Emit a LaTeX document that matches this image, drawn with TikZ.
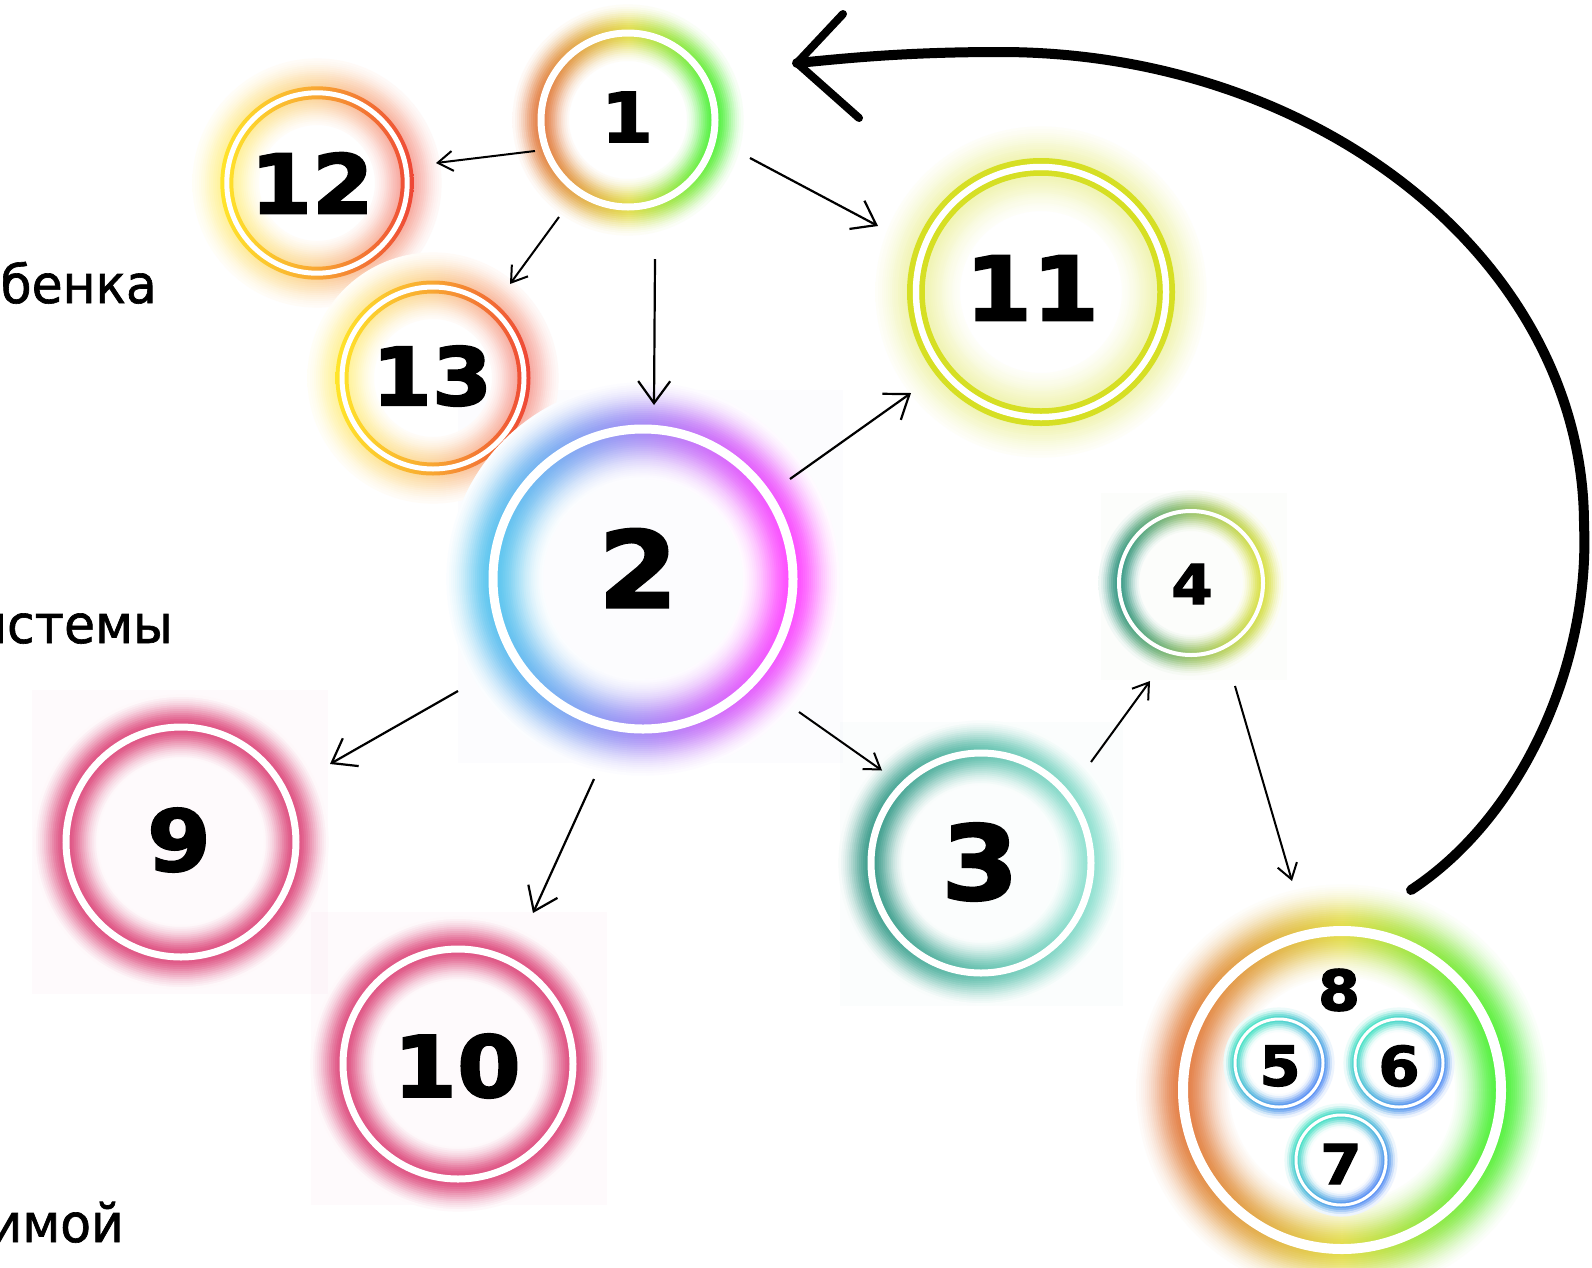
\documentclass[tikz,border=0pt]{standalone}
\usepackage{fontspec}
\usetikzlibrary{arrows.meta}
\newfontfamily\numfont[FakeStretch=1.08,FakeBold=2.2]{DejaVu Sans Bold}
\newfontfamily\cyrfont[FakeStretch=0.95,FakeBold=1.2]{DejaVu Sans}

\definecolor{oA}{HTML}{E37D45}
\definecolor{yA}{HTML}{E2DC48}
\definecolor{gA}{HTML}{4EF23E}
\definecolor{cyB}{HTML}{5CC6EF}
\definecolor{puB}{HTML}{A78BF5}
\definecolor{maB}{HTML}{FF4CFF}
\definecolor{yg}{HTML}{D6DF24}
\definecolor{y12}{HTML}{FFE52A}
\definecolor{o12}{HTML}{F8A632}
\definecolor{r12}{HTML}{EE4636}
\definecolor{pk}{HTML}{DE4F80}
\definecolor{tlA}{HTML}{3C9C8B}
\definecolor{tlB}{HTML}{66C2B0}
\definecolor{tlC}{HTML}{92E2D2}
\definecolor{tfA}{HTML}{3A9A88}
\definecolor{tfB}{HTML}{9CC46C}
\definecolor{tfC}{HTML}{DCE24A}
\definecolor{cyF}{HTML}{3CE0C0}
\definecolor{blF}{HTML}{4C84F4}

% glow: concentric shaded annuli around ring radius #2, inner reach #3, outer reach #4,
% peak strength #5 (percent), shading style #6
\newcommand\glowring[6]{%
  \pgfmathtruncatemacro\gN{(#3+#4)/2}%
  \foreach \i in {0,...,\gN}{%
    \pgfmathsetmacro\gra{#2-#3+2*\i}%
    \pgfmathsetmacro\grb{\gra+2.6}%
    \pgfmathsetmacro\glt{(\gra+1<#2) ? (#2-\gra-1)/#3 : (\gra+1-#2)/#4}%
    \pgfmathtruncatemacro\gp{#5*max(0,(exp(-2.4*\glt*\glt)-0.0907)/0.9093)}%
    \ifnum\gp>2
    \path[#6, even odd rule] (#1.center) circle (\grb) (#1.center) circle (\gra);
    \fi
  }}

\tikzset{
  hshade/.style n args={3}{left color=#1!\gp!white, right color=#3!\gp!white, middle color=#2!\gp!white},
  dshade/.style n args={2}{top color=#1!\gp!white, bottom color=#2!\gp!white, shading angle=45},
  ringnode/.style={circle, inner sep=0, outer sep=0, draw=none},
  num/.style={inner sep=0, text=black},
  cyr/.style={inner sep=0, anchor=base east, text=black, font=\cyrfont\fontsize{53}{53}\selectfont},
  sarrow/.style={line width=2, -{Straight Barb[length=15pt, width=20pt]}},
  barrow/.style={line width=2.2, -{Straight Barb[length=22pt, width=32pt]}},
  bigline/.style={line width=10, line cap=round, line join=round},
}

\begin{document}
\begin{tikzpicture}[x=1pt,y=1pt]
\useasboundingbox (0,0) rectangle (1592,-1267);
\fill[white] (0,0) rectangle (1592,-1267);

% faint glow boxes
\fill[pk, opacity=0.025] (32,-690) rectangle (328,-994);
\fill[pk, opacity=0.025] (311,-912) rectangle (607,-1205);
\fill[puB, opacity=0.025] (458,-390) rectangle (843,-763);
\fill[tlB, opacity=0.025] (840,-722) rectangle (1123,-1006);
\fill[tfB, opacity=0.025] (1101,-493) rectangle (1287,-680);

% node anchors
\node[ringnode, minimum size=174] (n1) at (628,-120) {};
\node[ringnode, minimum size=300] (n2) at (643,-579) {};
\node[ringnode, minimum size=220] (n3) at (981,-863) {};
\node[ringnode, minimum size=144] (n4) at (1191,-583) {};
\node[ringnode, minimum size=88] (n5) at (1279,-1063) {};
\node[ringnode, minimum size=88] (n6) at (1399,-1063) {};
\node[ringnode, minimum size=90] (n7) at (1341,-1160) {};
\node[ringnode, minimum size=318] (n8) at (1342,-1090) {};
\node[ringnode, minimum size=230] (n9) at (181,-842) {};
\node[ringnode, minimum size=230] (n10) at (458,-1064) {};
\node[ringnode, minimum size=262] (n11) at (1041,-292) {};
\node[ringnode, minimum size=190] (n12) at (317,-183) {};
\node[ringnode, minimum size=192] (n13) at (433,-378) {};

% node 12
\glowring{n12}{90}{36}{38}{50}{hshade={y12}{o12}{r12}}
\path[left color=y12, right color=r12, middle color=o12, even odd rule] (n12.center) circle (96.7) (n12.center) circle (83.7);
\draw[white, line width=5] (n12.center) circle (90.2);
% node 13
\glowring{n13}{91}{36}{38}{50}{hshade={y12}{o12}{r12}}
\path[left color=y12, right color=r12, middle color=o12, even odd rule] (n13.center) circle (97.5) (n13.center) circle (84.5);
\draw[white, line width=5] (n13.center) circle (91);
% node 2
\glowring{n2}{150}{52}{48}{100}{hshade={cyB}{puB}{maB}}
\draw[white, line width=9] (n2.center) circle (150);
% node 1
\glowring{n1}{87}{30}{30}{100}{hshade={oA}{yA}{gA}}
\draw[white, line width=7] (n1.center) circle (87);
% node 11
\glowring{n11}{125}{50}{46}{38}{hshade={yg}{yg}{yg}}
\draw[yg, line width=6] (n11.center) circle (131);
\draw[white, line width=6.5] (n11.center) circle (125);
\draw[yg, line width=5.5] (n11.center) circle (119);
% nodes 9, 10
\glowring{n9}{115}{34}{34}{100}{hshade={pk}{pk}{pk}}
\draw[white, line width=7] (n9.center) circle (115);
\glowring{n10}{115}{34}{34}{100}{hshade={pk}{pk}{pk}}
\draw[white, line width=7] (n10.center) circle (115);
% node 3
\glowring{n3}{110}{34}{34}{100}{hshade={tlA}{tlB}{tlC}}
\draw[white, line width=7] (n3.center) circle (110);
% node 4
\glowring{n4}{72}{22}{22}{100}{hshade={tfA}{tfB}{tfC}}
\draw[white, line width=4] (n4.center) circle (72);
% node 8
\glowring{n8}{159}{48}{48}{100}{hshade={oA}{yA}{gA}}
\draw[white, line width=10] (n8.center) circle (159);
% nodes 5, 6, 7
\glowring{n5}{44}{13}{12}{95}{dshade={cyF}{blF}}
\draw[white, line width=3] (n5.center) circle (44);
\glowring{n6}{44}{13}{12}{95}{dshade={cyF}{blF}}
\draw[white, line width=3] (n6.center) circle (44);
\glowring{n7}{45}{13}{12}{95}{dshade={cyF}{blF}}
\draw[white, line width=3] (n7.center) circle (45);

% numbers
\node[num, font=\numfont\fontsize{69}{69}\selectfont] (t1) at (627,-117) {1};
\node[num, font=\numfont\fontsize{106}{106}\selectfont] (t2) at (638,-568) {2};
\node[num, font=\numfont\fontsize{103}{103}\selectfont] (t3) at (980,-862) {3};
\node[num, font=\numfont\fontsize{55}{55}\selectfont] (t4) at (1192,-584) {4};
\node[num, font=\numfont\fontsize{55}{55}\selectfont] (t5) at (1280,-1066) {5};
\node[num, font=\numfont\fontsize{55}{55}\selectfont] (t6) at (1399,-1066) {6};
\node[num, font=\numfont\fontsize{55}{55}\selectfont] (t7) at (1341,-1164) {7};
\node[num, font=\numfont\fontsize{56}{56}\selectfont] (t8) at (1339,-990) {8};
\node[num, font=\numfont\fontsize{85}{85}\selectfont] (t9) at (179,-840) {9};
\node[num, font=\numfont\fontsize{85}{85}\selectfont] (t10) at (457,-1066) {10};
\node[num, font=\numfont\fontsize{89}{89}\selectfont] (t11) at (1032,-288) {11};
\node[num, font=\numfont\fontsize{82}{82}\selectfont] (t12) at (312,-183) {12};
\node[num, font=\numfont\fontsize{80}{80}\selectfont] (t13) at (432,-376) {13};

% side texts (cut at the left edge, as in the reference)
\node[cyr] (c1) at (157,-303) {бенка};
\node[cyr] (c2) at (173,-643) {истемы};
\node[cyr] (c3) at (124,-1242) {имой};

% connectors
\draw[sarrow] ([shift={(-93,-31)}]n1.center) -- ([shift={(119,20)}]n12.center);
\draw[sarrow] ([shift={(-69,-97)}]n1.center) -- ([shift={(77,94)}]n13.center);
\draw[barrow] ([shift={(27,-139)}]n1.center) -- ([shift={(11,174)}]n2.center);
\draw[barrow] ([shift={(122,-38)}]n1.center) -- ([shift={(-163,66)}]n11.center);
\draw[barrow] ([shift={(147,100)}]n2.center) -- ([shift={(-130,-101)}]n11.center);
\draw[barrow] ([shift={(-185,-112)}]n2.center) -- ([shift={(149,78)}]n9.center);
\draw[barrow] ([shift={(-49,-200)}]n2.center) -- ([shift={(75,151)}]n10.center);
\draw[sarrow] ([shift={(156,-133)}]n2.center) -- ([shift={(-99,92.5)}]n3.center);
\draw[sarrow] ([shift={(110,101)}]n3.center) -- ([shift={(-41,-98)}]n4.center);
\draw[sarrow] ([shift={(44,-103)}]n4.center) -- ([shift={(-50,209)}]n8.center);

% big return arrow from 8 to 1
\coordinate (bs) at ([shift={(69,200)}]n8.center);
\coordinate (bt) at ([shift={(169,57)}]n1.center);
\draw[bigline] (bs) .. controls (1525,-815) and (1590,-660) .. (1584,-525)
  .. controls (1584,-264) and (1322,-52) .. (1000,-52)
  .. controls (900,-52) and (840,-59) .. (bt);
\draw[line width=8, line cap=round, line join=round] ([shift={(46,49)}]bt) -- (bt) -- ([shift={(62,-55)}]bt);
\end{tikzpicture}
\end{document}
